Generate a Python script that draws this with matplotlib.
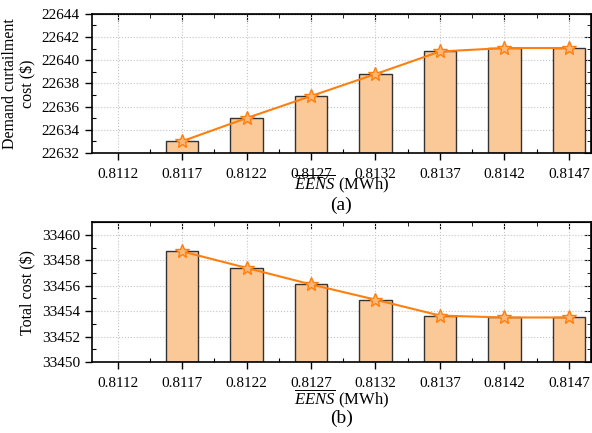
import matplotlib
matplotlib.use("Agg")
import matplotlib.pyplot as plt
from matplotlib.ticker import MultipleLocator

plt.rcParams['font.family'] = ['Liberation Serif', 'DejaVu Serif']
plt.rcParams['mathtext.fontset'] = 'custom'
plt.rcParams['mathtext.rm'] = 'Liberation Serif'
plt.rcParams['mathtext.it'] = 'Liberation Serif:italic'

# datos
eens = ['0.8112', '0.8117', '0.8122', '0.8127', '0.8132', '0.8137', '0.8142', '0.8147']
curtail_cost = [None, 22633.0, 22635.0, 22636.9, 22638.8, 22640.75, 22641.05, 22641.05]
total_cost = [None, 33458.7, 33457.4, 33456.1, 33454.9, 33453.65, 33453.5, 33453.5]

bar_color = '#FBC898'
line_color = '#FF7F0E'

fig = plt.figure(figsize=(5.92, 4.33), dpi=100)
ax1 = fig.add_axes([0.155, 0.647, 0.843, 0.321])
ax2 = fig.add_axes([0.155, 0.164, 0.843, 0.323])


def draw(ax, vals, ylim, ystep, ylabel, tag, lab_y, tag_y):
    xs = [i for i, v in enumerate(vals) if v is not None]
    ys = [v for v in vals if v is not None]
    ax.bar(xs, [y - ylim[0] for y in ys], bottom=ylim[0], width=0.5,
           color=bar_color, edgecolor='#333333', linewidth=1.0, zorder=2)
    ax.plot(xs, ys, color=line_color, linewidth=1.5, marker='*', markersize=10,
            markerfacecolor='#FDB877', markeredgecolor=line_color,
            markeredgewidth=1.0, zorder=3)
    ax.set_xlim(-0.4, 7.34)
    ax.set_ylim(*ylim)
    ax.set_xticks(range(len(eens)))
    ax.set_xticklabels(eens)
    ax.xaxis.set_minor_locator(MultipleLocator(0.5))
    ax.yaxis.set_major_locator(MultipleLocator(ystep))
    ax.yaxis.set_minor_locator(MultipleLocator(ystep / 2))
    ax.yaxis.get_major_formatter().set_useOffset(False)
    ax.grid(True, which='major', color='#C4C4C4', linestyle=':', linewidth=0.8, zorder=0)
    ax.set_axisbelow(True)
    ax.tick_params(which='major', direction='out', length=5, width=1.0, labelsize=11)
    ax.tick_params(which='minor', direction='in', length=3, width=0.8)
    ax.tick_params(axis='x', pad=6)
    for s in ax.spines.values():
        s.set_linewidth(1.2)
    # ejes espejo arriba y a la derecha
    top = ax.secondary_xaxis('top')
    top.set_xticks(range(len(eens)))
    top.xaxis.set_minor_locator(MultipleLocator(0.5))
    top.tick_params(which='major', direction='in', length=5, labeltop=False)
    top.tick_params(which='minor', direction='in', length=3)
    right = ax.secondary_yaxis('right')
    right.yaxis.set_major_locator(MultipleLocator(ystep))
    right.yaxis.set_minor_locator(MultipleLocator(ystep / 2))
    right.tick_params(which='major', direction='in', length=5, labelright=False)
    right.tick_params(which='minor', direction='in', length=3)
    ax.set_ylabel(ylabel, fontsize=11.5, labelpad=4)
    ax.text(0.5, lab_y, r'$\overline{EENS}$ (MWh)', transform=ax.transAxes,
            ha='center', va='center', fontsize=12)
    ax.text(0.5, tag_y, tag, transform=ax.transAxes, ha='center', va='center', fontsize=14)


draw(ax1, curtail_cost, (22632, 22644), 2, 'Demand curtailment\ncost ($)', '(a)', -0.225, -0.375)
draw(ax2, total_cost, (33450, 33461), 2, 'Total cost ($)', '(b)', -0.265, -0.40)

fig.savefig('out.png', dpi=100)
